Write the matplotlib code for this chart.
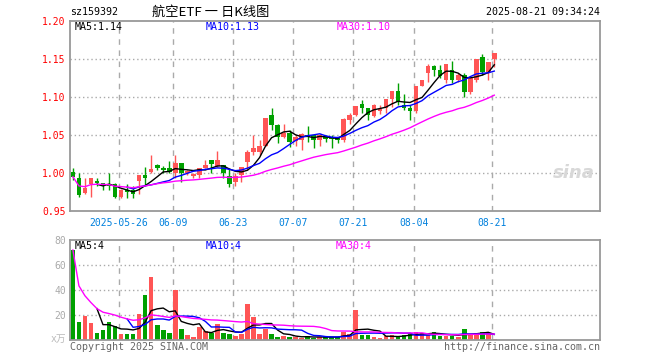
import numpy as np
import pandas as pd
import matplotlib
matplotlib.use("Agg")
import matplotlib.pyplot as plt

# =========================
# DATA
# =========================

opens = [1.001, 0.994, 0.974, 0.986, 0.990, 0.987, 0.985, 0.986, 0.968, 0.978,
         0.978, 0.989, 0.998, 1.001, 1.010, 1.006, 1.007, 1.000, 1.013, 1.000,
         0.996, 0.998, 1.006, 1.017, 1.009, 1.011, 0.996, 0.988, 0.998, 1.015,
         1.027, 1.027, 1.036, 1.076, 1.063, 1.047, 1.053, 1.042, 1.043, 1.050,
         1.050, 1.044, 1.049, 1.048, 1.047, 1.043, 1.070, 1.076, 1.091, 1.086,
         1.075, 1.082, 1.085, 1.097, 1.108, 1.090, 1.085, 1.081, 1.115, 1.132,
         1.141, 1.136, 1.122, 1.136, 1.122, 1.129, 1.106, 1.122, 1.152, 1.133,
         1.150]
highs = [1.007, 1.000, 0.993, 0.994, 0.993, 0.987, 1.000, 0.987, 0.979, 0.985,
         0.983, 0.998, 1.008, 1.024, 1.012, 1.009, 1.016, 1.024, 1.013, 1.004,
         1.000, 1.007, 1.017, 1.017, 1.029, 1.011, 1.007, 1.000, 1.008, 1.030,
         1.050, 1.044, 1.072, 1.085, 1.065, 1.064, 1.057, 1.050, 1.052, 1.062,
         1.050, 1.051, 1.050, 1.050, 1.048, 1.073, 1.079, 1.088, 1.096, 1.086,
         1.091, 1.090, 1.097, 1.108, 1.119, 1.104, 1.090, 1.115, 1.123, 1.144,
         1.142, 1.142, 1.143, 1.147, 1.132, 1.131, 1.125, 1.150, 1.157, 1.146,
         1.158]
lows = [0.991, 0.969, 0.973, 0.968, 0.983, 0.978, 0.978, 0.967, 0.967, 0.967,
        0.967, 0.972, 0.983, 1.000, 1.004, 1.000, 1.000, 0.994, 0.988, 0.998,
        0.994, 0.993, 1.006, 1.000, 1.008, 0.994, 0.982, 0.983, 0.988, 1.004,
        1.024, 1.024, 1.035, 1.057, 1.040, 1.046, 1.034, 1.035, 1.030, 1.041,
        1.033, 1.036, 1.041, 1.033, 1.039, 1.041, 1.065, 1.075, 1.079, 1.070,
        1.074, 1.078, 1.079, 1.087, 1.090, 1.083, 1.070, 1.079, 1.114, 1.120,
        1.127, 1.125, 1.119, 1.119, 1.120, 1.100, 1.104, 1.120, 1.129, 1.122,
        1.140]
closes = [0.995, 0.971, 0.980, 0.993, 0.987, 0.984, 0.983, 0.968, 0.978, 0.975,
          0.972, 0.998, 0.994, 1.005, 1.006, 1.004, 1.001, 1.013, 1.000, 1.003,
          0.999, 1.007, 1.011, 1.012, 1.017, 1.000, 0.986, 0.996, 1.008, 1.028,
          1.033, 1.036, 1.072, 1.063, 1.047, 1.052, 1.041, 1.048, 1.051, 1.049,
          1.043, 1.050, 1.045, 1.045, 1.043, 1.071, 1.076, 1.088, 1.086, 1.076,
          1.090, 1.084, 1.097, 1.108, 1.093, 1.085, 1.081, 1.115, 1.123, 1.141,
          1.135, 1.128, 1.143, 1.122, 1.129, 1.107, 1.125, 1.150, 1.133, 1.146,
          1.158]
volumes = [72, 14.7, 19.5, 13.6, 5.6, 8, 14.7, 11.2, 4.8, 4.8,
           4.8, 20.8, 36.3, 50.7, 12, 8, 5.9, 40, 8.5, 4,
           2.4, 10.1, 7.5, 5.6, 12.8, 5.6, 4.8, 3.2, 4.8, 28.8,
           18.4, 5, 9, 4.8, 2.7, 3.2, 2.4, 2.7, 1.9, 3,
           1.9, 2.7, 2.1, 2.1, 2.7, 6.7, 4.8, 24, 4, 4,
           2.1, 1.6, 3.5, 3.7, 2.9, 4, 5.3, 6.4, 5.3, 4,
           6.4, 3.5, 3.5, 3.5, 2.4, 8.8, 4.3, 5.9, 6.4, 5.3,
           0.8]

tick_idx = [8, 17, 27, 37, 47, 57, 70]
tick_labels = ["2025-05-26", "06-09", "06-23", "07-07", "07-21", "08-04", "08-21"]

price_ticks = [0.95, 1.00, 1.05, 1.10, 1.15, 1.20]
vol_ticks = [20, 40, 60, 80]

# =========================
# DERIVED SERIES
# =========================

df = pd.DataFrame({"open": opens, "high": highs, "low": lows,
                   "close": closes, "vol": volumes})
df["ma5"] = df["close"].rolling(5).mean()
df["ma10"] = df["close"].rolling(10).mean()
df["ma30"] = df["close"].rolling(30, min_periods=1).mean()
df["vma5"] = df["vol"].rolling(5).mean()
df["vma10"] = df["vol"].rolling(10).mean()
df["vma30"] = df["vol"].rolling(30, min_periods=1).mean()

RED = "#ff5555"
GREEN = "#00a000"
GRID = "#aaaaaa"
up = df["close"] >= df["open"]
colors = np.where(up, RED, GREEN)
x = np.arange(len(df))
xc = x + 0.4

# =========================
# FIGURE
# =========================

plt.rcParams["font.family"] = ["DejaVu Sans Mono", "Noto Sans CJK SC"]
W, H = 660, 360
fig = plt.figure(figsize=(W / 100, H / 100), dpi=100)


def box(l, t, r, b):
    return [l / W, 1 - b / H, (r - l) / W, (b - t) / H]


def ptxt(px, py, s, **kw):
    fig.text(px / W, 1 - py / H, s, **kw)


ax = fig.add_axes(box(70, 21, 600, 211))
axv = fig.add_axes(box(70, 240, 600, 340))

for a in (ax, axv):
    a.set_xlim(-0.08, 87.96)
    for s in a.spines.values():
        s.set_color("#999999")
        s.set_linewidth(1.3)
    for t in tick_idx:
        a.axvline(t, color=GRID, lw=1, ls=(0, (4, 4)), zorder=0)
    a.tick_params(length=0)

# price panel
ax.set_ylim(0.95, 1.20)
for p in price_ticks[1:-1]:
    ax.axhline(p, color=GRID, lw=1, ls=(0, (1, 2)), zorder=0)
ax.set_yticks(price_ticks)
ax.set_yticklabels([f"{p:.2f}" for p in price_ticks], color="red", fontsize=7)
ax.tick_params(axis="y", pad=3)
ax.set_xticks(tick_idx)
ax.set_xticklabels(tick_labels, color="#0080dd", fontsize=7)
ax.tick_params(axis="x", pad=5)

ax.vlines(xc, df["low"], df["high"], colors=colors, lw=1, zorder=2)
body_lo = np.minimum(df["open"], df["close"])
body_h = np.maximum((df["close"] - df["open"]).abs(), 0.0008)
ax.bar(xc, body_h, bottom=body_lo, width=0.78, color=colors, zorder=3)

ax.plot(xc, df["ma5"], color="black", lw=1, zorder=4)
ax.plot(xc, df["ma10"], color="#0000ff", lw=1, zorder=4)
ax.plot(xc, df["ma30"], color="#ff00ff", lw=1, zorder=4)

ax.text(0.99, 0.2, "sina", transform=ax.transAxes, ha="right", va="center",
        fontsize=13, style="italic", weight="bold", color="#d8d8d8",
        family="DejaVu Sans")

# volume panel
axv.set_ylim(0, 80)
for v in vol_ticks[:-1]:
    axv.axhline(v, color=GRID, lw=1, ls=(0, (1, 2)), zorder=0)
axv.set_yticks(vol_ticks)
axv.set_yticklabels([str(v) for v in vol_ticks], color="#aaaaaa", fontsize=7)
axv.tick_params(axis="y", pad=3)
axv.set_xticks(tick_idx)
axv.set_xticklabels([])

axv.bar(xc, df["vol"], width=0.78, color=colors, zorder=2)
axv.plot(xc, df["vma5"], color="black", lw=1, zorder=3)
axv.plot(xc, df["vma10"], color="#0000ff", lw=1, zorder=3)
axv.plot(xc, df["vma30"], color="#ff00ff", lw=1, zorder=3)

# =========================
# TEXTS
# =========================

last = df.iloc[-1]
ptxt(70, 12, "sz159392", fontsize=7.2, va="center")
ptxt(211, 12, "航空ETF 一 日K线图", fontsize=9.5, va="center", ha="center",
     family=["Noto Sans CJK SC", "DejaVu Sans"])
ptxt(600, 12, "2025-08-21 09:34:24", fontsize=7.2, va="center", ha="right")

ptxt(75, 27, f"MA5:{last['ma5']:.2f}", fontsize=7.2, va="center")
ptxt(206, 27, f"MA10:{last['ma10']:.2f}", fontsize=7.2, va="center", color="#0000ff")
ptxt(337, 27, f"MA30:{last['ma30']:.2f}", fontsize=7.2, va="center", color="#ff00ff")

# volume MAs are shown truncated to whole units
ptxt(75, 246, f"MA5:{int(last['vma5'])}", fontsize=7.2, va="center")
ptxt(206, 246, f"MA10:{int(last['vma10'])}", fontsize=7.2, va="center", color="#0000ff")
ptxt(336, 246, f"MA30:{int(last['vma30'])}", fontsize=7.2, va="center", color="#ff00ff")

ptxt(66, 339, "x万", fontsize=7, va="center", ha="right", color="#bbbbbb",
     family=["DejaVu Sans Mono", "Noto Sans CJK SC"])
ptxt(70, 347, "Copyright 2025 SINA.COM", fontsize=7.2, va="center", color="#666666")
ptxt(600, 347, "http://finance.sina.com.cn", fontsize=7.2, va="center",
     ha="right", color="#666666")

fig.savefig("out.png", dpi=100, facecolor="white")
